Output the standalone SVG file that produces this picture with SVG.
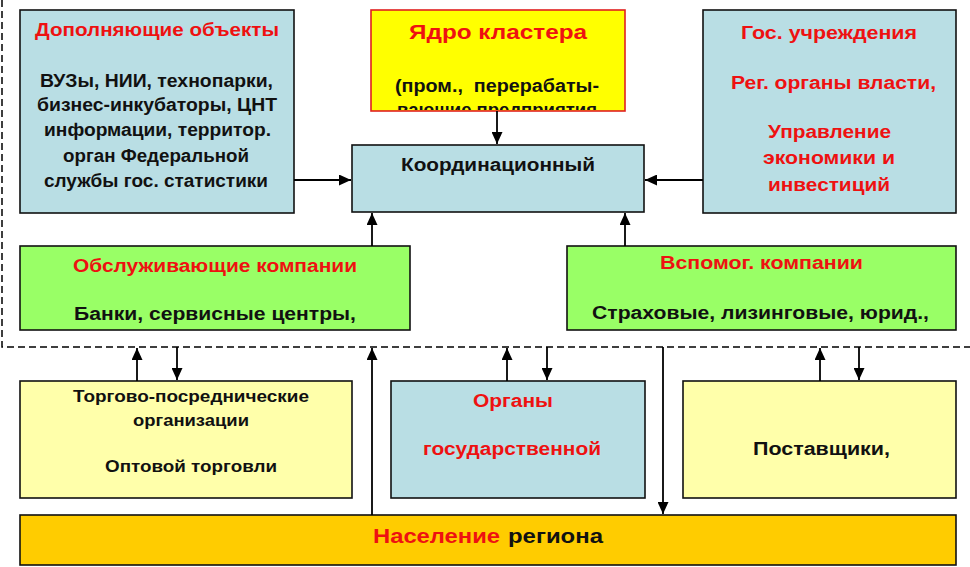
<svg xmlns="http://www.w3.org/2000/svg" width="970" height="567" viewBox="0 0 970 567">
<style>
text{font-family:"Liberation Sans",Arial,sans-serif;font-weight:bold;text-anchor:middle;font-size:18px}
.box{stroke:#111;stroke-width:1.6}
.blue{fill:#B9DEE4}
.green{fill:#99FF66}
.pale{fill:#FFFFAA}
.red{fill:#EE1111}
.blk{fill:#111}
.conn line{stroke:#000;stroke-width:1.8;marker-end:url(#ah)}
</style>
<defs>
<marker id="ah" viewBox="0 0 12 11" refX="12" refY="5.5" markerWidth="12" markerHeight="11" markerUnits="userSpaceOnUse" orient="auto">
<path d="M0,0 L12,5.5 L0,11 Z" fill="#000"/>
</marker>
<clipPath id="coreclip"><rect x="371" y="10" width="254" height="100"/></clipPath>
</defs>
<rect width="970" height="567" fill="#fff"/>
<path d="M2,0 V347 H970" fill="none" stroke="#000" stroke-width="1.5" stroke-dasharray="7,4"/>

<g id="dop">
<rect class="box blue" x="20" y="10" width="274" height="203"/>
<text class="red" x="157" y="36" textLength="244" lengthAdjust="spacingAndGlyphs">Дополняющие объекты</text>
<text class="blk" x="156.5" y="87" textLength="233" lengthAdjust="spacingAndGlyphs">ВУЗы, НИИ, технопарки,</text>
<text class="blk" x="157" y="111" textLength="240" lengthAdjust="spacingAndGlyphs">бизнес-инкубаторы, ЦНТ</text>
<text class="blk" x="157.5" y="136" textLength="227" lengthAdjust="spacingAndGlyphs">информации, территор.</text>
<text class="blk" x="156" y="162" textLength="186" lengthAdjust="spacingAndGlyphs">орган Федеральной</text>
<text class="blk" x="156" y="187" textLength="224" lengthAdjust="spacingAndGlyphs">службы гос. статистики</text>
</g>

<g id="core">
<rect x="371" y="10" width="254" height="101" fill="#FFFF00" stroke="#E02020" stroke-width="1.6"/>
<text class="red" x="498" y="39" style="font-size:20px" textLength="178" lengthAdjust="spacingAndGlyphs">Ядро кластера</text>
<text class="blk" x="497" y="92" textLength="204" lengthAdjust="spacingAndGlyphs">(пром.,&#160; перерабаты-</text>
<text class="blk" x="497" y="116" textLength="200" lengthAdjust="spacingAndGlyphs" clip-path="url(#coreclip)">вающие предприятия</text>
</g>

<g id="gos">
<rect class="box blue" x="703" y="10" width="253" height="203"/>
<text class="red" x="829" y="39" textLength="176" lengthAdjust="spacingAndGlyphs">Гос. учреждения</text>
<text class="red" x="833.5" y="89" textLength="205" lengthAdjust="spacingAndGlyphs">Рег. органы власти,</text>
<text class="red" x="829.5" y="138" textLength="123" lengthAdjust="spacingAndGlyphs">Управление</text>
<text class="red" x="829" y="164" textLength="132" lengthAdjust="spacingAndGlyphs">экономики и</text>
<text class="red" x="829" y="191" textLength="122" lengthAdjust="spacingAndGlyphs">инвестиций</text>
</g>

<g id="coord">
<rect class="box blue" x="352" y="145" width="292" height="67"/>
<text class="blk" x="498" y="171" textLength="194" lengthAdjust="spacingAndGlyphs">Координационный</text>
</g>

<g id="obsl">
<rect class="box green" x="20" y="246" width="390" height="84"/>
<text class="red" x="215" y="272" textLength="284" lengthAdjust="spacingAndGlyphs">Обслуживающие компании</text>
<text class="blk" x="215" y="320" textLength="282" lengthAdjust="spacingAndGlyphs">Банки, сервисные центры,</text>
</g>

<g id="vspom">
<rect class="box green" x="567" y="246" width="389" height="84"/>
<text class="red" x="761.5" y="269" textLength="203" lengthAdjust="spacingAndGlyphs">Вспомог. компании</text>
<text class="blk" x="760.5" y="319" textLength="337" lengthAdjust="spacingAndGlyphs">Страховые, лизинговые, юрид.,</text>
</g>

<g id="torg">
<rect class="box pale" x="20" y="381" width="332" height="117"/>
<text class="blk" x="191" y="402" style="font-size:17px" textLength="236" lengthAdjust="spacingAndGlyphs">Торгово-посреднические</text>
<text class="blk" x="191" y="426" style="font-size:17px" textLength="116" lengthAdjust="spacingAndGlyphs">организации</text>
<text class="blk" x="191" y="472" style="font-size:17px" textLength="172" lengthAdjust="spacingAndGlyphs">Оптовой торговли</text>
</g>

<g id="organy">
<rect class="box blue" x="391" y="381" width="254" height="117"/>
<text class="red" x="513" y="407" textLength="80" lengthAdjust="spacingAndGlyphs">Органы</text>
<text class="red" x="512" y="455" textLength="178" lengthAdjust="spacingAndGlyphs">государственной</text>
</g>

<g id="post">
<rect class="box pale" x="683" y="381" width="273" height="117"/>
<text class="blk" x="821.5" y="455" textLength="137" lengthAdjust="spacingAndGlyphs">Поставщики,</text>
</g>

<g id="nasel">
<rect class="box" x="20" y="515" width="936" height="50" fill="#FFCC00"/>
<text class="red" x="436.5" y="543" style="font-size:21px" textLength="127" lengthAdjust="spacingAndGlyphs">Население</text>
<text class="blk" x="555.5" y="543" style="font-size:21px" textLength="95" lengthAdjust="spacingAndGlyphs">региона</text>
</g>

<g class="conn" id="connectors">
<line x1="294" y1="180" x2="351" y2="180"/>
<line x1="703" y1="180" x2="645" y2="180"/>
<line x1="497" y1="111" x2="497" y2="144"/>
<line x1="372" y1="246" x2="372" y2="213"/>
<line x1="625" y1="246" x2="625" y2="213"/>
<line x1="137" y1="381" x2="137" y2="348"/>
<line x1="177" y1="347" x2="177" y2="380"/>
<line x1="372" y1="515" x2="372" y2="348"/>
<line x1="507" y1="381" x2="507" y2="348"/>
<line x1="547" y1="347" x2="547" y2="380"/>
<line x1="663" y1="347" x2="663" y2="514"/>
<line x1="820" y1="381" x2="820" y2="348"/>
<line x1="859" y1="347" x2="859" y2="380"/>
</g>
</svg>
